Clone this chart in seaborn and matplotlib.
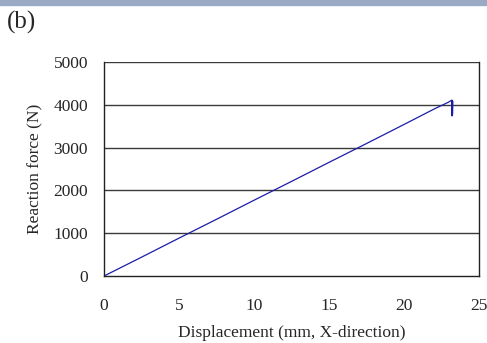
import matplotlib
matplotlib.use("Agg")
import matplotlib.pyplot as plt
import seaborn as sns
import pandas as pd

sns.set_style("white")
plt.rcParams['font.family'] = ['Liberation Serif', 'DejaVu Serif']

# force-displacement curve
displacement = [0.0, 2.5, 5.0, 7.5, 10.0, 12.5, 15.0, 17.5, 20.0, 22.0, 22.9,
                23.2, 23.2, 23.22, 23.22, 23.24, 23.24]
reaction_force = [0, 440, 885, 1325, 1770, 2210, 2655, 3095, 3540, 3900, 4050,
                  4110, 3740, 4100, 3760, 4090, 3780]
x_ticks = [0, 5, 10, 15, 20, 25]
y_ticks = [0, 1000, 2000, 3000, 4000, 5000]

df = pd.DataFrame({"disp": displacement, "force": reaction_force})

fig = plt.figure(figsize=(4.87, 3.43), dpi=100)
ax = fig.add_axes([0.2136, 0.1953, 0.77, 0.624])

sns.lineplot(data=df, x="disp", y="force", sort=False, estimator=None,
             color="#1c1ca8", linewidth=0.9, ax=ax)

ax.set_xlim(0, 25)
ax.set_ylim(0, 5000)
ax.set_xticks(x_ticks)
ax.set_yticks(y_ticks)
for yv in y_ticks[1:]:
    ax.axhline(yv, color="#3a3a3a", linewidth=1.0, zorder=0)

for s in ax.spines.values():
    s.set_color("#222222")
    s.set_linewidth(1.0)
ax.spines["top"].set_visible(False)

ax.tick_params(axis="x", direction="in", length=4, pad=16, labelsize=12.5)
ax.tick_params(axis="y", length=0, pad=11.5, labelsize=12.5)
ax.set_xlabel("Displacement (mm, X-direction)", fontsize=12.5, labelpad=8)
ax.set_ylabel("Reaction force (N)", fontsize=12.5, labelpad=7)

# header band and panel label
fig.patches.append(plt.Rectangle((0, 1 - 4.5 / 343), 1, 4.5 / 343, transform=fig.transFigure,
                                 color="#9aaac4", zorder=0))
fig.text(7 / 487, 1 - 11 / 343, "(b)", fontsize=18, va="top", ha="left")

fig.savefig("out.png", dpi=100)
